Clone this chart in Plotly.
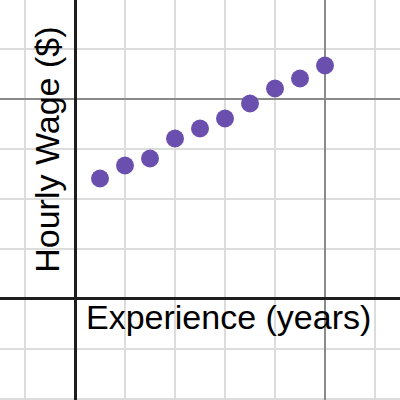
import plotly.graph_objects as go

experience = [1, 2, 3, 4, 5, 6, 7, 8, 9, 10]
wage = [12.0, 13.3, 14.0, 16.0, 17.0, 18.0, 19.5, 21.0, 22.0, 23.3]

x_title = "Experience (years)"
y_title = "Hourly Wage ($)"

fig = go.Figure()
fig.add_trace(go.Scatter(
    x=experience, y=wage, mode="markers",
    marker=dict(size=18, color="#6a4fae", line=dict(width=0)),
    hoverinfo="skip",
))

common = dict(showticklabels=False, ticks="", showline=False,
              zeroline=True, zerolinecolor="#1e1e1e", zerolinewidth=3,
              showgrid=True, gridcolor="#8a8a8a", gridwidth=2)

fig.update_xaxes(range=[-3, 13], tick0=0, dtick=10,
                 minor=dict(dtick=2, tick0=0, showgrid=True, gridcolor="#dcdcdc", gridwidth=2),
                 **common)
fig.update_yaxes(range=[-10.15, 29.85], tick0=0, dtick=20,
                 minor=dict(dtick=5, tick0=0, showgrid=True, gridcolor="#dcdcdc", gridwidth=2),
                 **common)

fig.add_annotation(x=6.12, y=-1.8, xref="x", yref="y", text=x_title, showarrow=False,
                   xanchor="center", yanchor="middle",
                   font=dict(family="Liberation Sans, Arial", size=34, color="#000000"))
fig.add_annotation(x=-1.15, y=14.9, xref="x", yref="y", text=y_title, showarrow=False,
                   textangle=-90, xanchor="center", yanchor="middle",
                   font=dict(family="Liberation Sans, Arial", size=34, color="#000000"))

fig.update_layout(width=400, height=400, margin=dict(l=0, r=0, t=0, b=0),
                  plot_bgcolor="white", paper_bgcolor="white", showlegend=False)

fig.write_html("out.html", config={"displayModeBar": False},
               post_script="document.body.style.margin='0';document.body.style.overflow='hidden';")
